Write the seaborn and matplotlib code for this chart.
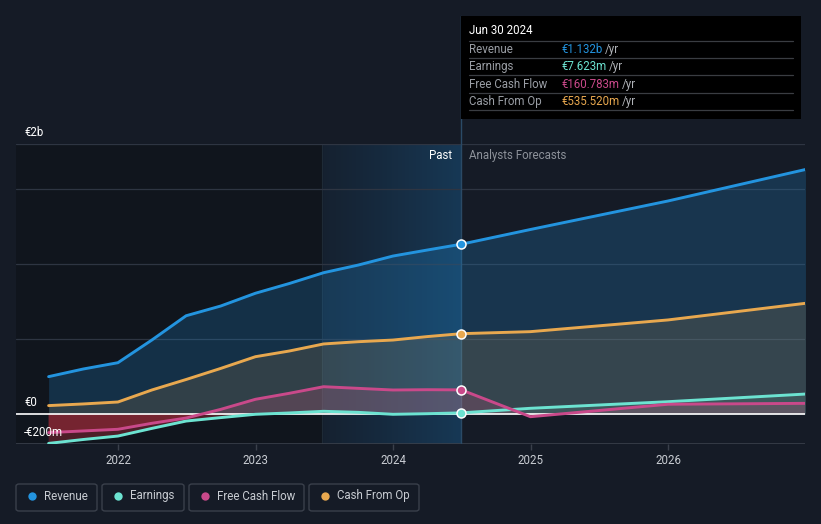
import numpy as np
import pandas as pd
import matplotlib
matplotlib.use("Agg")
from matplotlib import pyplot as plt
from matplotlib.patches import FancyBboxPatch, Rectangle
from matplotlib.colors import LinearSegmentedColormap
import seaborn as sns

# data in billions of euro
past_dates = ["2021-06-30", "2021-09-30", "2021-12-31", "2022-03-31", "2022-06-30",
              "2022-09-30", "2022-12-31", "2023-03-31", "2023-06-30", "2023-09-30",
              "2023-12-31", "2024-03-31", "2024-06-30"]
fc_dates = ["2024-06-30", "2024-12-31", "2025-12-31", "2026-12-31"]

revenue_past = [0.249, 0.300, 0.342, 0.493, 0.655, 0.720, 0.805, 0.870, 0.942, 0.993, 1.053, 1.093, 1.132]
earnings_past = [-0.196, -0.170, -0.147, -0.096, -0.047, -0.024, -0.002, 0.007, 0.018, 0.011, -0.002, 0.002, 0.0076]
fcf_past = [-0.124, -0.113, -0.102, -0.062, -0.027, 0.031, 0.098, 0.138, 0.182, 0.171, 0.160, 0.162, 0.1608]
cfo_past = [0.056, 0.067, 0.080, 0.160, 0.230, 0.304, 0.382, 0.420, 0.467, 0.482, 0.493, 0.516, 0.5355]

revenue_fc = [1.132, 1.230, 1.420, 1.630]
earnings_fc = [0.0076, 0.038, 0.082, 0.133]
fcf_fc = [0.1608, -0.018, 0.065, 0.071]
cfo_fc = [0.5355, 0.549, 0.627, 0.738]

series = ["Revenue", "Earnings", "Free Cash Flow", "Cash From Op"]
colors = ["#2394df", "#6ce3d1", "#c9498a", "#e8a84f"]
tip_values = ["€1.132b", "€7.623m", "€160.783m", "€535.520m"]
year_ticks = [2022, 2023, 2024, 2025, 2026]


def dec_year(dates):
    d = pd.to_datetime(pd.Series(dates))
    days = np.where(d.dt.is_leap_year, 366, 365)
    return (d.dt.year + (d.dt.dayofyear - 1) / days).to_numpy()


def main():
    bg = "#151b26"
    sns.set_theme(style="dark", rc={"figure.facecolor": bg, "axes.facecolor": bg})
    plt.rcParams["font.family"] = ["Roboto", "DejaVu Sans"]
    fs = 8.3

    xp = dec_year(past_dates)
    xf = dec_year(fc_dates)
    now = xp[-1]

    rows = []
    pasts = [revenue_past, earnings_past, fcf_past, cfo_past]
    fcs = [revenue_fc, earnings_fc, fcf_fc, cfo_fc]
    for name, p, f in zip(series, pasts, fcs):
        x = np.concatenate([xp, xf[1:]])
        y = np.concatenate([p, f[1:]])
        for xi, yi in zip(x, y):
            rows.append({"year": xi, "value": yi, "series": name})
    df = pd.DataFrame(rows)

    fig = plt.figure(figsize=(8.21, 5.24), dpi=100)
    W, H = 821, 524
    ax = fig.add_axes([16 / W, 1 - 444 / H, 789 / W, 300 / H])
    x0, x1 = 2021.256, 2026.994
    ax.set_xlim(x0, x1)
    ax.set_ylim(-0.2, 1.8)

    # past background
    split = 2023.48
    ax.axvspan(x0, split, color="#10151d", zorder=0)
    cmap = LinearSegmentedColormap.from_list("g", [(0.10, 0.35, 0.55, 0.10), (0.10, 0.40, 0.62, 0.40)])
    grad = np.linspace(0, 1, 256).reshape(1, -1)
    ax.imshow(grad, extent=[split, now, -0.2, 1.8], aspect="auto", cmap=cmap, zorder=0.5)
    ax.plot([split, split], [-0.2, 1.8], color="#1e2a36", lw=0.8, zorder=0.6)

    # grid
    for g in [0.5, 1.0, 1.5, 1.8]:
        ax.axhline(g, color="#2e3542", lw=0.9, zorder=1)
    ax.axhline(-0.2, color="#3a404b", lw=1.2, zorder=1)

    # fills
    alphas = [0.22, 0.12, 0.22, 0.14]
    for name, c, a in zip(series, colors, alphas):
        s = df[df.series == name]
        x = s.year.to_numpy()
        y = s.value.to_numpy()
        ax.fill_between(x, 0, y, where=y >= 0, interpolate=True, color=c, alpha=a, lw=0, zorder=2)
        ax.fill_between(x, 0, y, where=y < 0, interpolate=True, color="#c0313f", alpha=0.35, lw=0, zorder=2)

    ax.axhline(0, color="white", lw=1.2, zorder=3)

    sns.lineplot(data=df, x="year", y="value", hue="series", palette=dict(zip(series, colors)),
                 hue_order=series, lw=2.1, legend=False, ax=ax, zorder=4)

    # markers at the current point
    for name, c, p in zip(series, colors, pasts):
        ax.scatter([now], [p[-1]], s=42, color=c, edgecolor="white", linewidth=1.1, zorder=6)

    ax.plot([now, now], [-0.2, 1.8], color="#2a4a66", lw=1, zorder=1.5)
    fig.add_artist(plt.Line2D([461 / W, 461 / W], [1 - 16 / H, 1 - 144 / H], color="#2a4a66", lw=1))

    ax.set_xticks(year_ticks)
    ax.set_xticklabels([str(y) for y in year_ticks], color="#c8ccd2", fontsize=fs)
    ax.tick_params(axis="x", length=4, width=1, color="#3a404b", pad=3, bottom=True)
    ax.set_yticks([])
    ax.set_xlabel("")
    ax.set_ylabel("")
    for sp in ax.spines.values():
        sp.set_visible(False)

    # y labels
    fig.text(24 / W, 1 - 132 / H, "€2b", color="white", fontsize=fs, va="center")
    fig.text(24 / W, 1 - 402 / H, "€0", color="white", fontsize=fs, va="center")
    fig.text(24 / W, 1 - 432 / H, "-€200m", color="white", fontsize=fs, va="center", zorder=10)

    fig.text(452 / W, 1 - 156 / H, "Past", color="white", fontsize=fs, ha="right", va="center")
    fig.text(469 / W, 1 - 156 / H, "Analysts Forecasts", color="#8d929a", fontsize=fs, va="center")

    # tooltip
    fig.patches.append(Rectangle((461 / W, 1 - 119 / H), 340 / W, 103 / H, transform=fig.transFigure,
                                 facecolor="black", edgecolor="none", zorder=5))
    fig.text(469 / W, 1 - 31 / H, "Jun 30 2024", color="white", fontsize=fs, va="center", zorder=6)
    for yy in [41, 58, 75, 93, 110]:
        fig.add_artist(plt.Line2D([469 / W, 793 / W], [1 - yy / H, 1 - yy / H], color="#3a3d42", lw=0.9, zorder=6))
    for i, (name, c, v) in enumerate(zip(series, colors, tip_values)):
        yy = 1 - (49.5 + i * 17.3) / H
        fig.text(469 / W, yy, name, color="#9a9ea5", fontsize=fs, va="center", zorder=6)
        t = fig.text(561 / W, yy, v, color=c, fontsize=fs, va="center", zorder=6)
        fig.canvas.draw()
        bb = t.get_window_extent()
        fig.text((bb.x1 + 3) / W, yy, "/yr", color="#b0b3b8", fontsize=fs, va="center", zorder=6)

    # legend boxes
    boxes = [(16, 97), (102, 184), (189, 304), (309, 419)]
    for (bx0, bx1), name, c in zip(boxes, series, colors):
        fig.patches.append(FancyBboxPatch((bx0 / W, 1 - 511 / H), (bx1 - bx0) / W, 27 / H,
                                          boxstyle="round,pad=0,rounding_size=0.004",
                                          transform=fig.transFigure, facecolor="none",
                                          edgecolor="#3a404b", lw=1))
        fig.add_artist(plt.Line2D([(bx0 + 16) / W], [1 - 496 / H], marker="o", markersize=6,
                                  color=c, markeredgewidth=0))
        fig.text((bx0 + 28) / W, 1 - 496 / H, name, color="#c8ccd2", fontsize=fs, va="center")

    fig.savefig("out.png", dpi=100, facecolor=bg)


if __name__ == "__main__":
    main()
